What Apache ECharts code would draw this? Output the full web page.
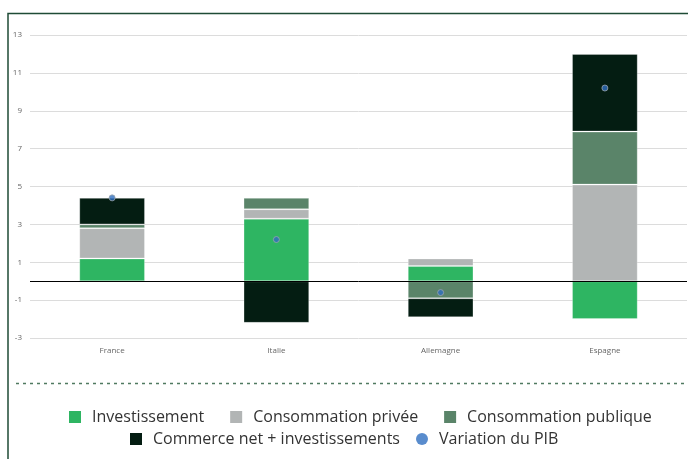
<!DOCTYPE html>
<html>
<head>
<meta charset="utf-8">
<script src="https://cdn.jsdelivr.net/npm/echarts@6/dist/echarts.min.js"></script>
<style>
  html, body { margin: 0; padding: 0; background: #fff; }
  #chart { width: 688px; height: 459px; }
</style>
</head>
<body>
<div id="chart"></div>
<script>
// contributions a la croissance
var pays = ['France', 'Italie', 'Allemagne', 'Espagne'];

var investissement = [1.2, 3.3, 0.8, -2.0];
var consoPrivee = [1.6, 0.5, 0.4, 5.1];
var consoPublique = [0.2, 0.6, -0.9, 2.8];
var commerceNet = [1.4, -2.2, -1.0, 4.1];
var variationPib = [4.4, 2.2, -0.6, 10.2];

var chart = echarts.init(document.getElementById('chart'));

var barStyle = function (c) {
    return { color: c, borderColor: 'rgba(255,255,255,0.25)', borderWidth: 1 };
};

var legendText = { fontSize: 16, color: '#333', padding: [0, 0, 0, 6] };

var option = {
    animation: false,
    textStyle: { fontFamily: 'Open Sans' },
    grid: { left: 30, right: 1, top: 35, bottom: 121 },
    legend: [
        {
            data: [
                { name: 'Investissement', icon: 'rect' },
                { name: 'Consommation privée', icon: 'rect' },
                { name: 'Consommation publique', icon: 'rect' }
            ],
            left: 69,
            top: 409,
            padding: 0,
            itemWidth: 12,
            itemHeight: 12,
            itemGap: 26,
            itemStyle: { borderWidth: 0 },
            textStyle: legendText
        },
        {
            data: [
                { name: 'Commerce net + investissements', icon: 'rect' },
                { name: 'Variation du PIB', icon: 'circle' }
            ],
            left: 130,
            top: 431,
            padding: 0,
            itemWidth: 12,
            itemHeight: 12,
            itemGap: 16,
            itemStyle: { borderWidth: 0 },
            textStyle: legendText
        }
    ],
    xAxis: {
        type: 'category',
        data: pays,
        axisLine: { show: false },
        axisTick: { show: false },
        axisLabel: { fontSize: 8, color: '#666', margin: 9 }
    },
    yAxis: {
        type: 'value',
        min: -3,
        max: 13,
        interval: 2,
        axisLine: { show: false },
        axisTick: { show: false },
        axisLabel: { fontSize: 8, color: '#666', margin: 8 },
        splitLine: { lineStyle: { color: '#dcdcdc', width: 1 } }
    },
    series: [
        { name: 'Investissement', type: 'bar', stack: 'c', barWidth: '40%', data: investissement, itemStyle: barStyle('#2eb562') },
        { name: 'Consommation privée', type: 'bar', stack: 'c', data: consoPrivee, itemStyle: barStyle('#b2b5b5') },
        { name: 'Consommation publique', type: 'bar', stack: 'c', data: consoPublique, itemStyle: barStyle('#5a8469') },
        { name: 'Commerce net + investissements', type: 'bar', stack: 'c', data: commerceNet, itemStyle: barStyle('#041d12') },
        {
            name: 'Variation du PIB',
            type: 'scatter',
            symbolSize: 6,
            z: 5,
            data: variationPib,
            itemStyle: { color: '#2f6fc0', borderColor: '#9aa4ad', borderWidth: 1 },
            markLine: {
                silent: true,
                symbol: 'none',
                label: { show: false },
                lineStyle: { color: '#000', width: 1, type: 'solid' },
                data: [{ yAxis: 0 }]
            }
        }
    ],
    graphic: [
        {
            type: 'polyline',
            shape: { points: [[8, 459], [8, 13.5], [688, 13.5]] },
            style: { stroke: '#1f4b36', lineWidth: 1.5, fill: null }
        },
        {
            type: 'line',
            shape: { x1: 16, y1: 383.5, x2: 688, y2: 383.5 },
            style: { stroke: '#4f7a60', lineWidth: 1.5, lineDash: [3, 4] }
        }
    ]
};

chart.setOption(option);
</script>
</body>
</html>
